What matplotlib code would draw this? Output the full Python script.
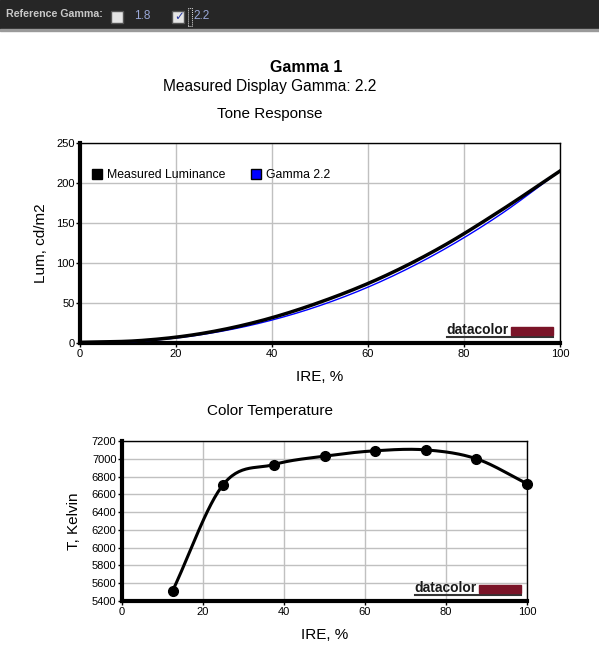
import numpy as np
import matplotlib
matplotlib.use("Agg")
import matplotlib.pyplot as plt
from matplotlib.lines import Line2D
from matplotlib.patches import Rectangle

plt.rcParams['font.family'] = ['Liberation Sans', 'DejaVu Sans']

# Tone response (IRE %, cd/m2)
ire_lum = [0, 12.5, 25, 37.5, 50, 62.5, 75, 87.5, 100]
lum_measured = [0.8, 3.0, 11.5, 27.5, 51, 81, 119, 165, 215]
lum_gamma22 = [0, 2.2, 10.2, 24.9, 46.8, 76.4, 114.2, 160.3, 215]

# Color temperature (IRE %, Kelvin)
ire_ct = [12.5, 25, 37.5, 50, 62.5, 75, 87.5, 100]
temp_k = [5515, 6710, 6935, 7030, 7090, 7100, 7000, 6720]

W, H = 599, 669


def fx(px):
    return px / W


def fy(py):
    return 1 - py / H


def smooth(x, y, n=30):
    # Catmull-Rom pour tracer la courbe lissée entre les points
    x = np.asarray(x, float)
    y = np.asarray(y, float)
    px = np.concatenate([[2 * x[0] - x[1]], x, [2 * x[-1] - x[-2]]])
    py = np.concatenate([[2 * y[0] - y[1]], y, [2 * y[-1] - y[-2]]])
    xs, ys = [], []
    t = np.linspace(0, 1, n)
    for i in range(1, len(px) - 2):
        for arr, out in ((px, xs), (py, ys)):
            p0, p1, p2, p3 = arr[i - 1], arr[i], arr[i + 1], arr[i + 2]
            out.append(0.5 * ((2 * p1) + (-p0 + p2) * t
                              + (2 * p0 - 5 * p1 + 4 * p2 - p3) * t ** 2
                              + (-p0 + 3 * p1 - 3 * p2 + p3) * t ** 3))
    return np.concatenate(xs), np.concatenate(ys)


def style_axes(ax):
    ax.grid(True, color='#c0c0c0', linewidth=1)
    ax.set_axisbelow(True)
    for s in ('top', 'right'):
        ax.spines[s].set_linewidth(1)
    for s in ('left', 'bottom'):
        ax.spines[s].set_linewidth(3)
    ax.tick_params(labelsize=8, length=3, width=1, pad=1)


def logo(x0, ybase):
    # logo datacolor, en pixels de la figure
    fig.text(fx(x0 - 1), fy(ybase), 'datacolor', fontsize=10, fontweight='bold',
             color='#1a1a1a', ha='left', va='baseline', zorder=5)
    fig.patches.append(Rectangle((fx(x0 + 64), fy(ybase + 1)), fx(42), 8.5 / H,
                                 transform=fig.transFigure, color='#7a1428',
                                 zorder=5))
    fig.lines.append(Line2D([fx(x0), fx(x0 + 106)], [fy(ybase + 3), fy(ybase + 3)],
                            transform=fig.transFigure, color='#333333',
                            linewidth=1.5, zorder=5))


fig = plt.figure(figsize=(W / 100, H / 100), dpi=100)

# barre du haut
fig.patches.append(Rectangle((0, fy(30)), 1, 30 / H, transform=fig.transFigure,
                             color='#262626', zorder=0))
fig.patches.append(Rectangle((0, fy(31)), 1, 1.5 / H, transform=fig.transFigure,
                             color='#9a9a9a', zorder=0))
fig.text(fx(6), fy(14), 'Reference Gamma:', fontsize=7.7, fontweight='bold',
         color='#c8c8c8', va='center')
for bx in (111, 172):
    fig.patches.append(Rectangle((fx(bx), fy(23)), 12 / W, 12 / H,
                                 transform=fig.transFigure, facecolor='#e6e6e6',
                                 edgecolor='#555555', linewidth=1))
fig.patches.append(Rectangle((fx(187.5), fy(26)), 4.5 / W, 18 / H,
                             transform=fig.transFigure, fill=False,
                             edgecolor='#dddddd', linewidth=0.7,
                             linestyle=(0, (1, 1))))
fig.text(fx(134), fy(16), '1.8', fontsize=8.5, color='#9aa8d8', va='center')
fig.text(fx(174.5), fy(16.5), '\u2713', fontsize=8.5, color='#2a3aa0',
         va='center', family=['DejaVu Sans'])
fig.text(fx(193), fy(16), '2.2', fontsize=8.5, color='#9aa8d8', va='center')

# titres
fig.text(fx(306), fy(67), 'Gamma 1', fontsize=11.5, fontweight='bold',
         ha='center', va='center')
fig.text(fx(270), fy(87), 'Measured Display Gamma: 2.2', fontsize=11.2,
         ha='center', va='center')
fig.text(fx(270), fy(114), 'Tone Response', fontsize=11,
         ha='center', va='center')
fig.text(fx(270), fy(411), 'Color Temperature', fontsize=11,
         ha='center', va='center')

# Tone Response
ax1 = fig.add_axes([fx(80), fy(343), 480 / W, 200 / H])
style_axes(ax1)
gx, gy = smooth(ire_lum, lum_gamma22)
mx, my = smooth(ire_lum, lum_measured)
ax1.plot(gx, gy, color='#0000ff', linewidth=1, zorder=3)
ax1.plot(mx, my, color='black', linewidth=2.5, zorder=4)
ax1.set_xlim(0, 100)
ax1.set_ylim(0, 250)
ax1.set_xticks(range(0, 101, 20))
ax1.set_yticks(range(0, 251, 50))
ax1.set_xlabel('IRE, %', fontsize=11, labelpad=8)
ax1.set_ylabel('Lum, cd/m2', fontsize=11, labelpad=6)
handles = [Line2D([], [], marker='s', linestyle='none', markersize=7,
                  markerfacecolor='black', markeredgecolor='black'),
           Line2D([], [], marker='s', linestyle='none', markersize=7,
                  markerfacecolor='#0000ff', markeredgecolor='black')]
ax1.legend(handles, ['Measured Luminance', 'Gamma 2.2'], ncol=2, frameon=False,
           loc='upper left', bbox_to_anchor=(0.0, 0.92), fontsize=8.8,
           handletextpad=0.2, columnspacing=1.9, handlelength=1.2,
           borderaxespad=0.4)

# Color Temperature
ax2 = fig.add_axes([fx(122), fy(601), 405 / W, 160 / H])
style_axes(ax2)
cx, cy = smooth(ire_ct, temp_k)
ax2.plot(cx, cy, color='black', linewidth=2.2, zorder=3)
ax2.plot(ire_ct, temp_k, 'o', color='black', markersize=7, zorder=4,
         clip_on=False)
ax2.set_xlim(0, 100)
ax2.set_ylim(5400, 7200)
ax2.set_xticks(range(0, 101, 20))
ax2.set_yticks(range(5400, 7201, 200))
ax2.set_xlabel('IRE, %', fontsize=11, labelpad=8)
ax2.set_ylabel('T, Kelvin', fontsize=11, labelpad=8)

logo(447, 334)
logo(415, 592)

fig.savefig('out.png', dpi=100)
